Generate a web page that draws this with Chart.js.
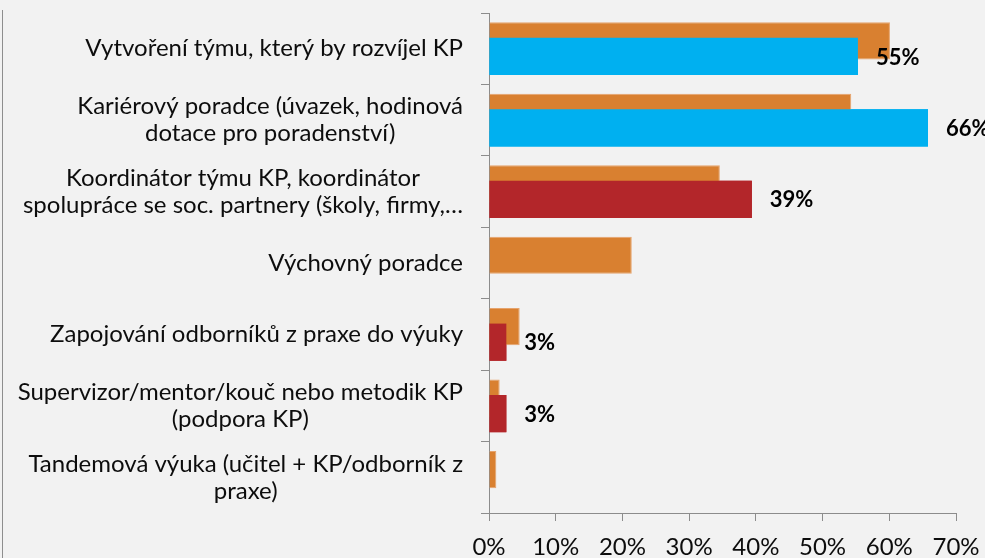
<!DOCTYPE html>
<html><head><meta charset="utf-8">
<script src="https://cdn.jsdelivr.net/npm/chart.js@4.4.0/dist/chart.umd.min.js"></script>
<style>
html,body{margin:0;padding:0;background:#F2F2F2;}
#wrap{position:relative;width:985px;height:558px;overflow:hidden;background:#F2F2F2;}
#frame{position:absolute;left:2px;top:10px;height:560px;width:0;border-left:1px solid #8E8E8E;}
canvas{position:absolute;left:0;top:0;}
</style></head><body>
<div id="wrap"><canvas id="c" width="985" height="558"></canvas><div id="frame"></div></div>
<script>
const categories = [
  ["Vytvoření týmu, který by rozvíjel KP"],
  ["Kariérový poradce (úvazek, hodinová", "dotace pro poradenství)"],
  ["Koordinátor týmu KP, koordinátor", "spolupráce se soc. partnery (školy, firmy,…"],
  ["Výchovný poradce"],
  ["Zapojování odborníků z praxe do výuky"],
  ["Supervizor/mentor/kouč nebo metodik KP", "(podpora KP)"],
  ["Tandemová výuka (učitel + KP/odborník z", "praxe)"]
];
const seriesA = [60.1, 54.3, 34.6, 21.4, 4.6, 1.6, 1.1];
const seriesB = [55.3, 65.8, 39.4, null, 2.6, 2.6, null];
const seriesBColors = ["#00B0F0", "#00B0F0", "#B3262A", "#B3262A", "#B3262A", "#B3262A", "#B3262A"];
const xTicks = [0, 10, 20, 30, 40, 50, 60, 70];

const AXIS = '#8C8C8C';
const FONT = 'Lato';

const overlayPlugin = {
  id: 'overlay',
  afterDatasetsDraw(chart) {
    chart.getDatasetMeta(1).controller.draw();
  },
  afterDraw(chart) {
    const ctx = chart.ctx, ys = chart.scales.y, xs = chart.scales.x;
    ctx.save();
    ctx.font = '24px ' + FONT;
    ctx.fillStyle = '#0D0D0D';
    ctx.textAlign = 'center';
    ctx.textBaseline = 'middle';
    const right = xs.left - 26;
    const lh = 27;
    categories.forEach((lines, i) => {
      const cy = ys.getPixelForValue(i);
      const w = Math.max(...lines.map(l => ctx.measureText(l).width));
      const cx = right - w / 2;
      lines.forEach((l, j) => ctx.fillText(l, cx, cy + (j - (lines.length - 1) / 2) * lh));
    });
    ctx.font = 'bold 22px ' + FONT;
    ctx.fillStyle = '#000';
    ctx.textAlign = 'left';
    const meta = chart.getDatasetMeta(1);
    meta.data.forEach((el, i) => {
      const v = seriesB[i];
      if (v == null) return;
      ctx.fillText(Math.round(v) + '%', el.x + 18, el.y + 1);
    });
    ctx.restore();
  }
};

new Chart(document.getElementById('c'), {
  type: 'bar',
  data: {
    labels: categories.map(c => c.join(' ')),
    datasets: [
      { data: seriesA, backgroundColor: '#D98030', borderColor: '#E6A36C', borderWidth: 1,
        categoryPercentage: 0.434, barPercentage: 2.4 },
      { data: seriesB, backgroundColor: seriesBColors, borderWidth: 0,
        categoryPercentage: 0.434, barPercentage: 2.4 }
    ]
  },
  options: {
    indexAxis: 'y',
    responsive: false,
    animation: false,
    layout: { padding: { top: 13, right: 29, left: 0, bottom: 0 } },
    plugins: { legend: { display: false }, tooltip: { enabled: false }, title: { display: false } },
    scales: {
      x: {
        min: 0, max: 70,
        afterBuildTicks: s => { s.ticks = xTicks.map(v => ({ value: v })); },
        ticks: { callback: v => v + '%', font: { family: FONT, size: 24 }, color: '#0D0D0D', padding: 12, maxRotation: 0 },
        grid: { drawOnChartArea: false, color: AXIS, tickLength: 8, lineWidth: 1 },
        border: { color: AXIS, width: 1 },
        afterFit: s => { s.height = 45; s.paddingRight = 0; s.paddingLeft = 0; }
      },
      y: {
        ticks: { callback: () => '' },
        grid: { drawOnChartArea: false, color: AXIS, tickLength: 8, offset: true },
        border: { color: AXIS, width: 1 },
        afterFit: s => { s.width = 489; s.paddingTop = 0; s.paddingBottom = 0; }
      }
    }
  },
  plugins: [overlayPlugin]
});
</script>
</body></html>
